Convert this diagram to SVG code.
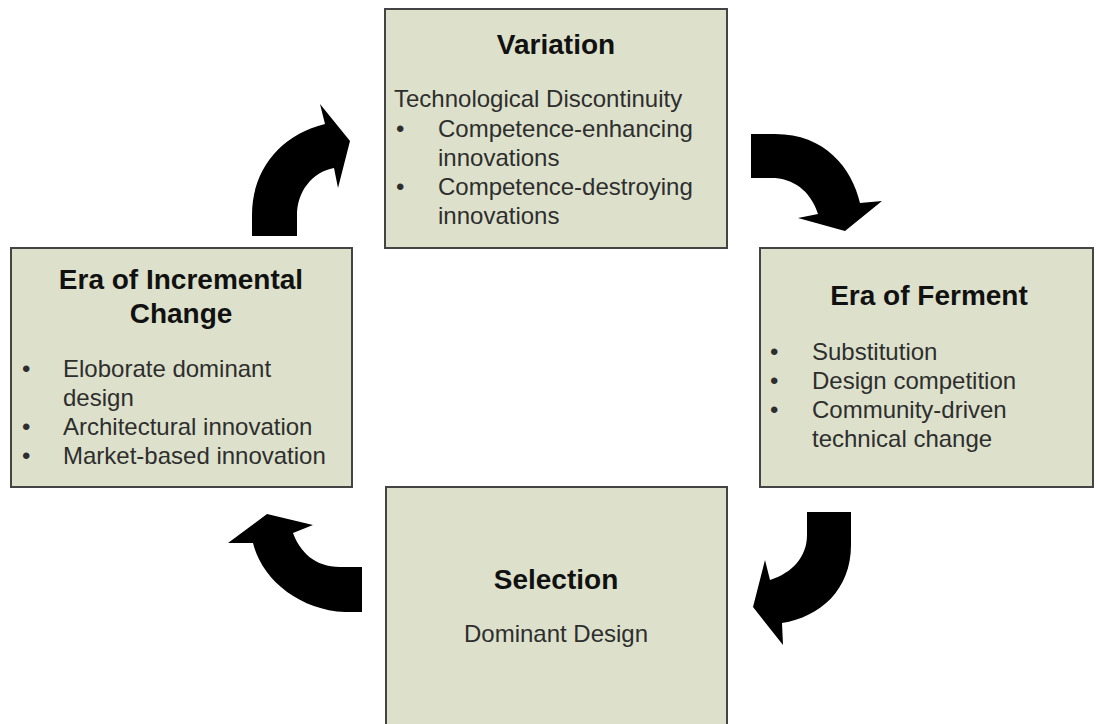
<svg xmlns="http://www.w3.org/2000/svg" width="1098" height="724" viewBox="0 0 1098 724">
<style>
.box{fill:#dde1cb;stroke:#444;stroke-width:2}
.title{font-family:"Liberation Sans",Arial,sans-serif;font-size:28px;font-weight:bold;fill:#111;text-anchor:middle}
.body{font-family:"Liberation Sans",Arial,sans-serif;font-size:24px;fill:#2e2e2e}
.mid{text-anchor:middle}
.arrow{fill:#000}
</style>
<rect width="1098" height="724" fill="#fff"/>
<g id="connectors">
<path class="arrow" d="M252 236 L252 215 C252 170 280 135 325 124 L320 104 L350 141 L338 188 L334 168 C312 172 297 192 297 215 L297 236 Z"/>
<path class="arrow" d="M751 134 L775 134 C825 134 852 168 860 203 L882 201 L845 231 L798 218 L818 214 C812 195 798 180 775 178 L751 178 Z"/>
<path class="arrow" d="M807 512 L851 512 L851 545 C851 590 820 617 782 623 L783 645 L753 607 L765 560 L770 580 C792 573 807 557 807 535 Z"/>
<path class="arrow" d="M362 567 L362 612 L345 612 C300 610 262 580 253 543 L228 543 L267 514 L313 525 L293 533 C300 552 315 567 340 567 Z"/>
</g>
<g id="variation">
<rect class="box" x="385" y="9" width="342" height="239"/>
<text class="title" x="556" y="54">Variation</text>
<text class="body" x="394" y="107">Technological Discontinuity</text>
<text class="body" x="396" y="137">•</text>
<text class="body" x="438" y="137">Competence-enhancing</text>
<text class="body" x="438" y="166">innovations</text>
<text class="body" x="396" y="195">•</text>
<text class="body" x="438" y="195">Competence-destroying</text>
<text class="body" x="438" y="224">innovations</text>
</g>
<g id="ferment">
<rect class="box" x="760" y="248" width="333" height="239"/>
<text class="title" x="929" y="305">Era of Ferment</text>
<text class="body" x="770" y="360">•</text>
<text class="body" x="812" y="360">Substitution</text>
<text class="body" x="770" y="389">•</text>
<text class="body" x="812" y="389">Design competition</text>
<text class="body" x="770" y="418">•</text>
<text class="body" x="812" y="418">Community-driven</text>
<text class="body" x="812" y="447">technical change</text>
</g>
<g id="selection">
<rect class="box" x="386" y="487" width="341" height="260"/>
<text class="title" x="556" y="589">Selection</text>
<text class="body mid" x="556" y="642">Dominant Design</text>
</g>
<g id="incremental">
<rect class="box" x="11" y="248" width="341" height="239"/>
<text class="title" x="181" y="289">Era of Incremental</text>
<text class="title" x="181" y="323">Change</text>
<text class="body" x="22" y="377">•</text>
<text class="body" x="63" y="377">Eloborate dominant</text>
<text class="body" x="63" y="406">design</text>
<text class="body" x="22" y="435">•</text>
<text class="body" x="63" y="435">Architectural innovation</text>
<text class="body" x="22" y="464">•</text>
<text class="body" x="63" y="464">Market-based innovation</text>
</g>
</svg>
